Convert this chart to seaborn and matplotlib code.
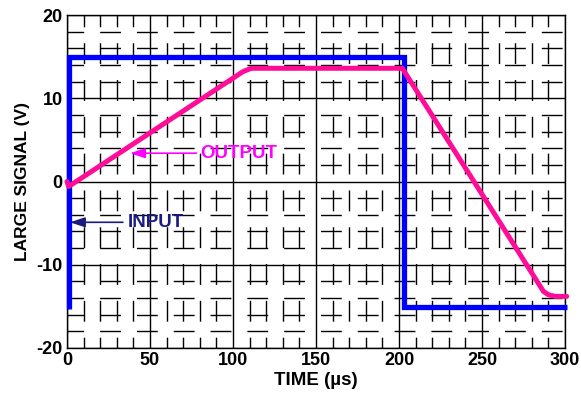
import matplotlib
matplotlib.use("Agg")
import matplotlib.pyplot as plt
import seaborn as sns
import pandas as pd

# data
input_time = [1.5, 1.5, 203, 203, 301]
input_volts = [-15.3, 15.0, 15.0, -15.1, -15.1]
output_time = [0, 1, 106, 111, 202, 287, 290, 294, 301]
output_volts = [0.0, -0.6, 13.2, 13.6, 13.6, -13.2, -13.6, -13.8, -13.8]
x_ticks = [0, 50, 100, 150, 200, 250, 300]
y_ticks = [-20, -10, 0, 10, 20]

sns.set_style("white")
plt.rcParams['font.family'] = ['Liberation Sans', 'DejaVu Sans']
plt.rcParams['font.weight'] = 'bold'
plt.rcParams['axes.unicode_minus'] = False
plt.rcParams['text.color'] = 'black'
plt.rcParams['axes.labelcolor'] = 'black'
plt.rcParams['xtick.color'] = 'black'
plt.rcParams['ytick.color'] = 'black'

fig = plt.figure(figsize=(5.81, 3.95), dpi=100)
ax = fig.add_axes([0.1153, 0.119, 0.8572, 0.843])

df_in = pd.DataFrame({"t": input_time, "v": input_volts})
df_out = pd.DataFrame({"t": output_time, "v": output_volts})

sns.lineplot(data=df_in, x="t", y="v", sort=False, estimator=None, color="#0000FF",
             linewidth=3.8, ax=ax, clip_on=False, solid_joinstyle="miter",
             solid_capstyle="butt", zorder=5)
sns.lineplot(data=df_out, x="t", y="v", sort=False, estimator=None, color="#FF0D99",
             linewidth=3.6, ax=ax, clip_on=False, zorder=6)

ax.set_xlim(0, 300)
ax.set_ylim(-20, 20)
ax.set_xticks(x_ticks)
ax.set_yticks(y_ticks)
ax.set_xticks(range(0, 301, 10), minor=True)
ax.set_yticks(range(-20, 21, 2), minor=True)
ax.tick_params(which="both", length=0, labelsize=13, colors="black")
ax.tick_params(axis="x", pad=3)
ax.tick_params(axis="y", pad=3)
for lbl in ax.get_xticklabels() + ax.get_yticklabels():
    lbl.set_fontweight("bold")

# solid major grid, broken minor grid
ax.grid(which="major", color="black", linewidth=1.0, linestyle="-")
ax.xaxis.grid(which="minor", color="black", linewidth=1.0, linestyle=(7.2, (15, 11.5)))
ax.yaxis.grid(which="minor", color="black", linewidth=1.0, linestyle=(3, (15, 11.5)))
ax.set_axisbelow(True)
for s in ax.spines.values():
    s.set_color("black")
    s.set_linewidth(1.0)

ax.set_xlabel("TIME (µs)", fontsize=13.5, fontweight="bold", color="black")
ax.set_ylabel("LARGE SIGNAL (V)", fontsize=12.5, fontweight="bold", color="black")
ax.xaxis.set_label_coords(0.5, -0.099)
ax.xaxis.label.set_va("center")
ax.yaxis.set_label_coords(-0.09, 0.5)
ax.yaxis.label.set_va("center")

ax.annotate("", xy=(38, 3.4), xytext=(78, 3.4),
            arrowprops=dict(arrowstyle="-|>,head_length=0.9,head_width=0.3",
                            color="#FF00FF", lw=1.2, shrinkA=0, shrinkB=0), zorder=7)
ax.text(80, 3.4, "OUTPUT", color="#FF00FF", fontsize=13.5, fontweight="bold",
        va="center", ha="left", zorder=7)
ax.annotate("", xy=(1.8, -4.9), xytext=(33.7, -4.9),
            arrowprops=dict(arrowstyle="-|>,head_length=0.9,head_width=0.3",
                            color="#1A1A80", lw=1.2, shrinkA=0, shrinkB=0), zorder=7)
ax.text(36.7, -4.9, "INPUT", color="#1A1A80", fontsize=13.5, fontweight="bold",
        va="center", ha="left", zorder=7)

plt.savefig("out.png", dpi=100)
